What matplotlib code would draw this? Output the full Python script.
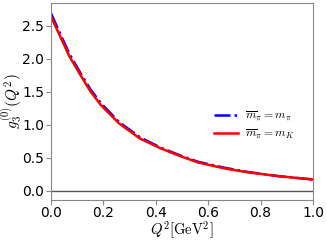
import matplotlib
matplotlib.use("Agg")
import matplotlib.pyplot as plt

plt.rcParams['mathtext.fontset'] = 'cm'

q2_red = [0.00, 0.035, 0.07, 0.11, 0.15, 0.19, 0.26, 0.34, 0.42, 0.49, 0.56, 0.66, 0.75, 0.87, 1.00]
g_red = [2.64, 2.34, 2.04, 1.77, 1.51, 1.30, 1.02, 0.79, 0.64, 0.53, 0.43, 0.34, 0.28, 0.22, 0.17]
q2_blue = [0.00, 0.035, 0.07, 0.11, 0.15, 0.19, 0.26, 0.34, 0.42, 0.49, 0.56, 0.66, 0.75, 0.87, 1.00]
g_blue = [2.69, 2.38, 2.08, 1.80, 1.54, 1.33, 1.04, 0.81, 0.65, 0.54, 0.44, 0.35, 0.285, 0.22, 0.17]
label_blue = r'$\overline{m}_\pi = m_\pi$'
label_red = r'$\overline{m}_\pi = m_K$'
xticks = [0.0, 0.2, 0.4, 0.6, 0.8, 1.0]
yticks = [0.0, 0.5, 1.0, 1.5, 2.0, 2.5]

fig = plt.figure(figsize=(3.27, 2.40), dpi=100)
ax = fig.add_axes([0.156, 0.167, 0.801, 0.821])
ax.axhline(0, color='#555555', lw=1.0)
ax.plot(q2_blue, g_blue, color='blue', lw=1.8, ls='-.', label=label_blue)
ax.plot(q2_red, g_red, color='red', lw=1.8, ls='-', label=label_red)
ax.set_xlim(0, 1.0)
ax.set_ylim(-0.14, 2.85)
ax.set_xticks(xticks)
ax.set_yticks(yticks)
ax.tick_params(labelsize=10, color='#888888', pad=1.5)
ax.tick_params(axis='x', pad=1)
for s in ax.spines.values():
    s.set_color('#888888')
ax.set_xlabel(r'$Q^2[\mathrm{GeV}^2]$', fontsize=10.5, labelpad=-0.5)
ax.set_ylabel(r'$g_3^{(0)}(Q^2)$', fontsize=11, labelpad=-1.5)
ax.legend(loc='center right', bbox_to_anchor=(0.97, 0.38), frameon=False, fontsize=8.5,
          handlelength=2.0, labelspacing=0.3, handletextpad=0.6)
fig.savefig('out.png', dpi=100)
